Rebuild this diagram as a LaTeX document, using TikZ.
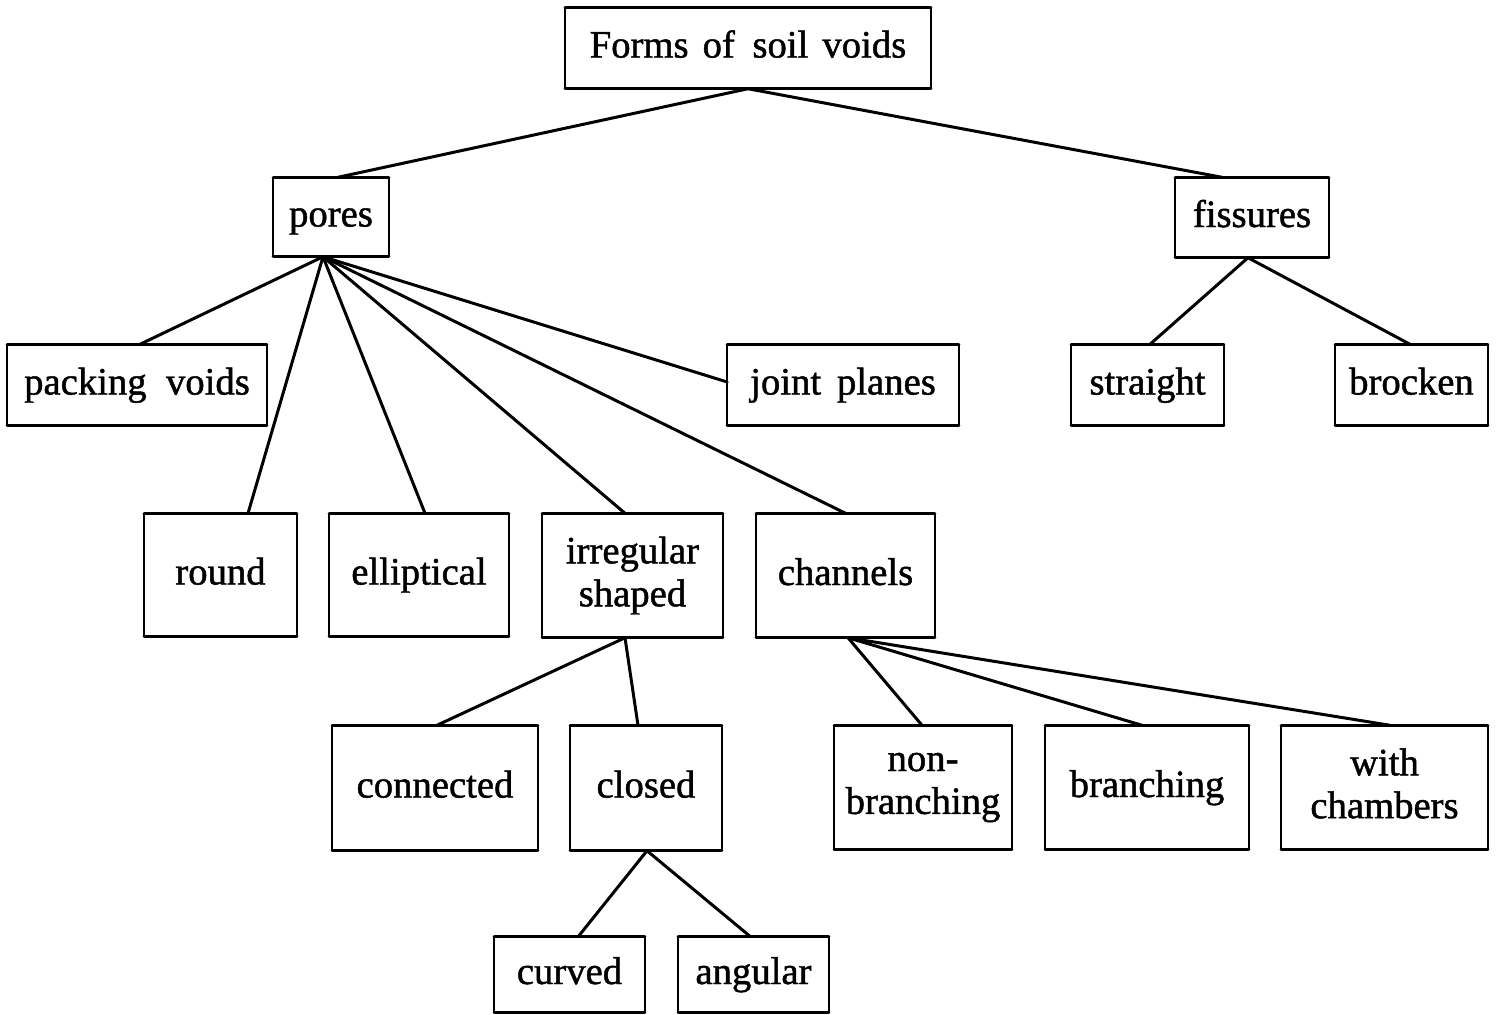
\documentclass[tikz,border=0pt]{standalone}
\usepackage{fontspec}
\setmainfont{Liberation Serif}
\newfontfamily\lblfam[FakeBold=1.2]{Liberation Serif}
\usetikzlibrary{calc}
\newcommand\lblfont{\lblfam\fontsize{11}{12.2}\selectfont}
\newcommand\ws[1][4pt]{\hspace{#1}}
\tikzset{
  bx/.style={draw=none, inner sep=0pt, align=center, font=\lblfont},
  one/.style={text height=7.6pt, text depth=2.2pt},
  hedge/.style={line width=0.9pt, line cap=round},
  vedge/.style={line width=0.5pt},
  conn/.style={line width=0.85pt, line cap=round},
}
\begin{document}
\begin{tikzpicture}[x=0.01cm, y=-0.01cm]
\useasboundingbox (0,0) rectangle (1499,1014);

% level 0
\node[bx, one, minimum width=3.64cm, minimum height=0.80cm] (top) at (748,48) {Forms\ws of\ws[5pt]soil\ws voids};
% level 1
\node[bx, one, minimum width=1.14cm, minimum height=0.78cm] (pores) at (331,217) {pores};
\node[bx, one, minimum width=1.52cm, minimum height=0.79cm] (fiss) at (1252,217.5) {fissures};
% level 2
\node[bx, one, minimum width=2.58cm, minimum height=0.80cm] (pack) at (137,385) {packing\ws[5.5pt]voids};
\node[bx, one, minimum width=2.30cm, minimum height=0.80cm] (joint) at (843,385) {joint\ws[4.5pt]planes};
\node[bx, one, minimum width=1.51cm, minimum height=0.80cm] (straight) at (1147.5,385) {straight};
\node[bx, one, minimum width=1.51cm, minimum height=0.80cm] (brocken) at (1411.5,385) {brocken};
% level 3
\node[bx, one, minimum width=1.51cm, minimum height=1.22cm] (round) at (220.5,575) {round};
\node[bx, one, minimum width=1.78cm, minimum height=1.22cm] (ellip) at (419,575) {elliptical};
\node[bx, minimum width=1.79cm, minimum height=1.23cm] (irreg) at (632.5,575.5) {irregular\\shaped};
\node[bx, one, minimum width=1.77cm, minimum height=1.23cm] (chan) at (845.5,575.5) {channels};
% level 4
\node[bx, one, minimum width=2.04cm, minimum height=1.24cm] (conn) at (435,788) {connected};
\node[bx, one, minimum width=1.50cm, minimum height=1.24cm] (closed) at (646,788) {closed};
\node[bx, minimum width=1.76cm, minimum height=1.23cm] (nonbr) at (923,787.5) {non-\\branching};
\node[bx, one, minimum width=2.02cm, minimum height=1.23cm] (branch) at (1147,787.5) {branching};
\node[bx, minimum width=2.05cm, minimum height=1.23cm] (chamb) at (1384.5,787.5) {with\\chambers\vphantom{g}};
% level 5
\node[bx, one, minimum width=1.49cm, minimum height=0.75cm] (curved) at (569.5,974.5) {curved};
\node[bx, one, minimum width=1.49cm, minimum height=0.75cm] (angular) at (753.5,974.5) {angular};

% box outlines: thin sides, heavy top and bottom rules
\foreach \n in {top,pores,fiss,pack,joint,straight,brocken,round,ellip,irreg,chan,conn,closed,nonbr,branch,chamb,curved,angular}{
  \draw[vedge] (\n.north west) -- (\n.south west) (\n.north east) -- (\n.south east);
  \draw[hedge] (\n.north west) -- (\n.north east) (\n.south west) -- (\n.south east);
}

% connectors
\draw[conn] (top.south) -- ([xshift=0.07cm]pores.north);
\draw[conn] (top.south) -- ([xshift=-0.30cm]fiss.north);

\coordinate (pb) at ([xshift=-0.08cm]pores.south);
\draw[conn] (pb) -- ([xshift=0.03cm]pack.north);
\draw[conn] (pb) -- ([xshift=0.275cm]round.north);
\draw[conn] (pb) -- ([xshift=0.06cm]ellip.north);
\draw[conn] (pb) -- ([xshift=-0.075cm]irreg.north);
\draw[conn] (pb) -- (chan.north);
\draw[conn] (pb) -- ([yshift=0.03cm]joint.west);

\coordinate (fb) at ([xshift=-0.04cm]fiss.south);
\draw[conn] (fb) -- ([xshift=0.025cm]straight.north);
\draw[conn] (fb) -- ([xshift=-0.015cm]brocken.north);

\coordinate (ib) at ([xshift=-0.075cm]irreg.south);
\draw[conn] (ib) -- ([xshift=0.02cm]conn.north);
\draw[conn] (ib) -- ([xshift=-0.08cm]closed.north);

\coordinate (cb) at ([xshift=0.025cm]chan.south);
\draw[conn] (cb) -- ([xshift=-0.01cm]nonbr.north);
\draw[conn] (cb) -- ([xshift=-0.05cm]branch.north);
\draw[conn] (cb) -- ([xshift=0.055cm]chamb.north);

\coordinate (clb) at ([xshift=0.01cm]closed.south);
\draw[conn] (clb) -- ([xshift=0.09cm]curved.north);
\draw[conn] (clb) -- ([xshift=-0.035cm]angular.north);
\end{tikzpicture}
\end{document}
